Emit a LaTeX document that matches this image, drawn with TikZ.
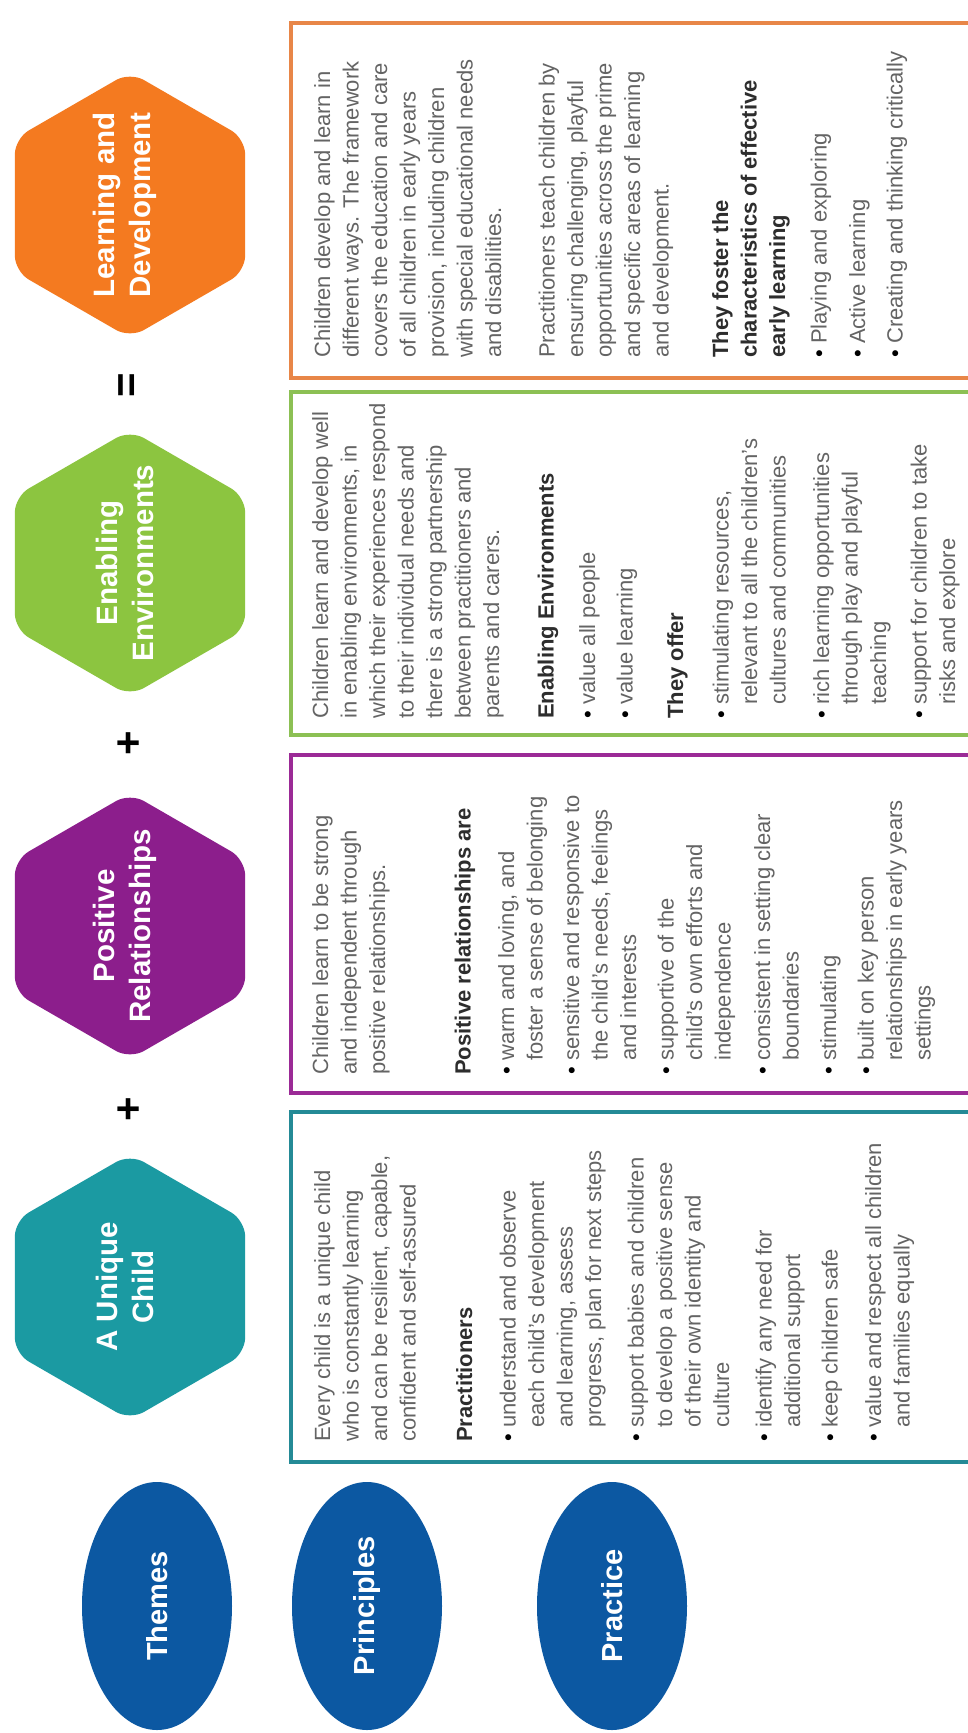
\documentclass[tikz,border=0pt]{standalone}
\usepackage{fontspec}
\setmainfont{Liberation Sans}
\usetikzlibrary{shapes.geometric}
\definecolor{tealF}{RGB}{27,154,162}
\definecolor{tealB}{RGB}{36,138,150}
\definecolor{purpF}{RGB}{140,30,140}
\definecolor{purpB}{RGB}{155,42,150}
\definecolor{grnF}{RGB}{140,197,64}
\definecolor{grnB}{RGB}{140,192,84}
\definecolor{orgF}{RGB}{244,122,32}
\definecolor{orgB}{RGB}{232,134,72}
\definecolor{dblue}{RGB}{12,88,162}
\definecolor{bodyc}{RGB}{100,100,100}
\definecolor{headc}{RGB}{45,45,45}
\newcommand{\bpt}{\makebox[14pt][l]{\textcolor{black}{\textbullet}}}
\newcommand{\hin}{\hspace*{14pt}}
\newcommand{\hdg}[1]{\textcolor{headc}{\bfseries #1}}
\tikzset{
  boxline/.style={line width=4.5pt, fill=white},
  hexa/.style={regular polygon, regular polygon sides=6, minimum size=266pt, inner sep=0pt, rounded corners=16pt},
  hexlabel/.style={text=white, font=\fontsize{29.5}{36}\selectfont\bfseries, align=center, inner sep=0pt},
  oval/.style={ellipse, fill=dblue, minimum width=248pt, minimum height=150pt, inner sep=0pt, text=white, font=\fontsize{29}{34}\selectfont\bfseries},
  opsign/.style={font=\fontsize{42}{42}\selectfont\bfseries, inner sep=0pt},
  body/.style={anchor=north west, inner sep=0pt, align=left, text=bodyc, font=\fontsize{22}{28.5}\selectfont},
}
\begin{document}
\begin{tikzpicture}[x=1pt,y=1pt]
\useasboundingbox (0,-1733) rectangle (968,0);
\fill[white] (0,-1733) rectangle (968,0);
\clip (0,-1733) rectangle (968,0);
\begin{scope}[shift={(0,-1733)}, rotate=90, transform shape]
  % boxes
  \draw[boxline, draw=tealB] (271,-291) rectangle (621,-1010);
  \draw[boxline, draw=purpB] (640,-291) rectangle (978,-1010);
  \draw[boxline, draw=grnB] (998,-291) rectangle (1341,-1010);
  \draw[boxline, draw=orgB] (1355,-291) rectangle (1710,-1010);
  % left column
  \node[oval] (themes) at (127,-157) {Themes};
  \node[oval] (princ) at (127,-367) {Principles};
  \node[oval] (pract) at (127,-612) {Practice};
  % hexagons
  \node[hexa, fill=tealF] (hUC) at (446,-130) {};
  \node[hexa, fill=purpF] (hPR) at (807,-130) {};
  \node[hexa, fill=grnF] (hEE) at (1170,-130) {};
  \node[hexa, fill=orgF] (hLD) at (1528,-130) {};
  \node[hexlabel] (lUC) at (446,-125) {A Unique\\Child};
  \node[hexlabel] (lPR) at (807,-125) {Positive\\Relationships};
  \node[hexlabel] (lEE) at (1170,-125) {Enabling\\Environments};
  \node[hexlabel] (lLD) at (1528,-125) {Learning and\\Development};
  \node[opsign] (plus1) at (624,-130) {+};
  \node[opsign] (plus2) at (990,-130) {+};
  \node[opsign] (eq) at (1348,-130) {=};
  % texts
  \node[body] (tUC) at (291,-314) {Every child is a unique child\\
who is constantly learning\\
and can be resilient, capable,\\
confident and self-assured\\[28pt]
\hdg{Practitioners}\\[15pt]
\bpt understand and observe\\
\hin each child's development\\
\hin and learning, assess\\
\hin progress, plan for next steps\\[14pt]
\bpt support babies and children\\
\hin to develop a positive sense\\
\hin of their own identity and\\
\hin culture\\[14pt]
\bpt identify any need for\\
\hin additional support\\[9pt]
\bpt keep children safe\\[15pt]
\bpt value and respect all children\\
\hin and families equally};
  \node[body] (tPR) at (658,-312) {Children learn to be strong\\
and independent through\\
positive relationships.\\[57pt]
\hdg{Positive relationships are}\\[15pt]
\bpt warm and loving, and\\
\hin foster a sense of belonging\\[8pt]
\bpt sensitive and responsive to\\
\hin the child's needs, feelings\\
\hin and interests\\[9pt]
\bpt supportive of the\\
\hin child's own efforts and\\
\hin independence\\[11pt]
\bpt consistent in setting clear\\
\hin boundaries\\[9pt]
\bpt stimulating\\[9pt]
\bpt built on key person\\
\hin relationships in early years\\
\hin settings};
  \node[body] (tEE) at (1014,-312) {Children learn and develop well\\
in enabling environments, in\\
which their experiences respond\\
to their individual needs and\\
there is a strong partnership\\
between practitioners and\\
parents and carers.\\[26pt]
\hdg{Enabling Environments}\\[13pt]
\bpt value all people\\[9pt]
\bpt value learning\\[22pt]
\hdg{They offer}\\[17pt]
\bpt stimulating resources,\\
\hin relevant to all the children's\\
\hin cultures and communities\\[15pt]
\bpt rich learning opportunities\\
\hin through play and playful\\
\hin teaching\\[12pt]
\bpt support for children to take\\
\hin risks and explore};
  \node[body] (tLD) at (1375,-314) {Children develop and learn in\\
different ways. The framework\\
covers the education and care\\
of all children in early years\\
provision, including children\\
with special educational needs\\
and disabilities.\\[25pt]
Practitioners teach children by\\
ensuring challenging, playful\\
opportunities across the prime\\
and specific areas of learning\\
and development.\\[31pt]
\hdg{They foster the}\\
\hdg{characteristics of effective}\\
\hdg{early learning}\\[13pt]
\bpt Playing and exploring\\[10pt]
\bpt Active learning\\[9pt]
\bpt Creating and thinking critically};
\end{scope}
\end{tikzpicture}
\end{document}
